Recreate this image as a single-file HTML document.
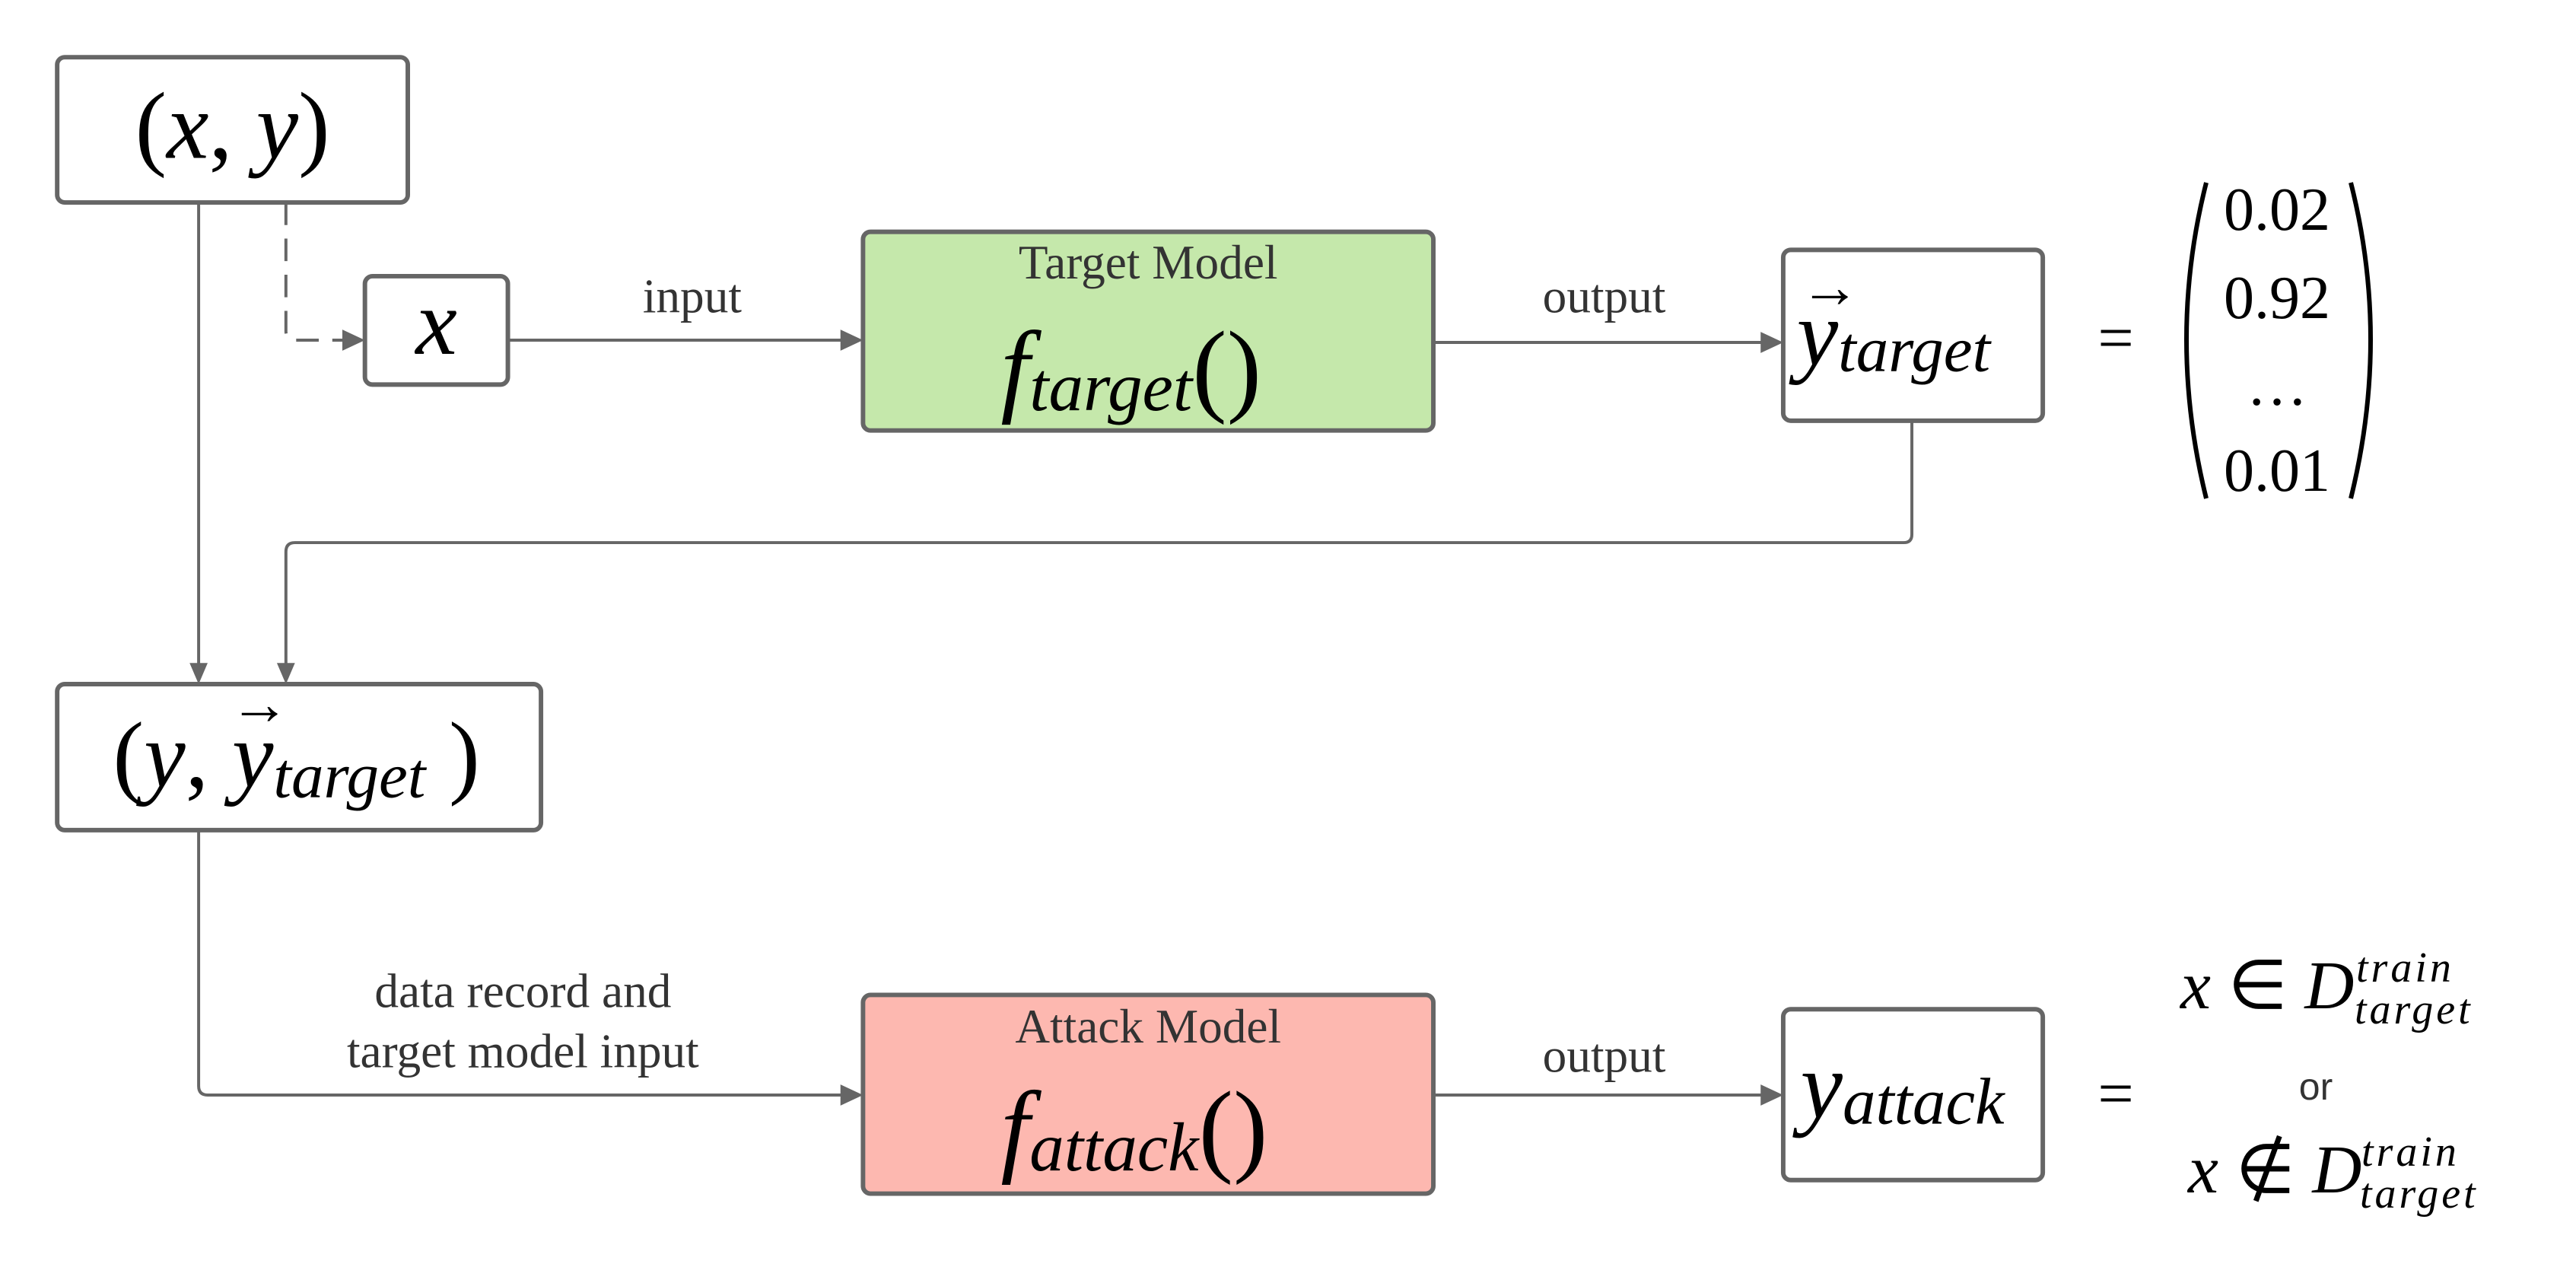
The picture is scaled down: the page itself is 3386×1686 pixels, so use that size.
<!DOCTYPE html>
<html><head><meta charset="utf-8"><style>
html,body{margin:0;padding:0;background:#fff;}
svg{display:block;}
.m{font-family:"Liberation Serif",serif;font-style:italic;fill:#000;}
.r{font-family:"Liberation Serif",serif;fill:#000;}
.l{font-family:"Liberation Serif",serif;fill:#333;}
</style></head><body>
<svg width="3386" height="1686" viewBox="0 0 3386 1686" xmlns="http://www.w3.org/2000/svg">
<g transform="scale(0.989)">
<g fill="none" stroke="#666" stroke-width="4">
<line x1="264" y1="269" x2="264" y2="885"/>
<path d="M380 269 V440 Q380 452 392 452 H455" stroke-dasharray="30 18"/>
<line x1="675" y1="452" x2="1122" y2="452"/>
<line x1="1905" y1="455" x2="2345" y2="455"/>
<path d="M2541 559 V710 Q2541 721 2530 721 H392 Q380 721 380 733 V885"/>
<path d="M264 1103 V1443 Q264 1455 276 1455 H1122"/>
<line x1="1905" y1="1455" x2="2345" y2="1455"/>
</g>
<g fill="#666">
<polygon points="485,452 455,438 455,466"/>
<polygon points="1147,452 1117,438 1117,466"/>
<polygon points="2370,455 2340,441 2340,469"/>
<polygon points="264,909 252,881 276,881"/>
<polygon points="380,909 368,881 392,881"/>
<polygon points="1147,1455 1117,1441 1117,1469"/>
<polygon points="2370,1455 2340,1441 2340,1469"/>
</g>
<g stroke="#666" stroke-width="6">
<rect x="76" y="76" width="466" height="193" rx="10" fill="#fff"/>
<rect x="485" y="367" width="190" height="144" rx="10" fill="#fff"/>
<rect x="1147" y="308" width="758" height="264" rx="10" fill="#c5e8ab"/>
<rect x="2370" y="332" width="345" height="227" rx="10" fill="#fff"/>
<rect x="76" y="909" width="643" height="194" rx="10" fill="#fff"/>
<rect x="1147" y="1322" width="758" height="264" rx="10" fill="#fdb8b0"/>
<rect x="2370" y="1341" width="345" height="227" rx="10" fill="#fff"/>
</g>
<text x="309" y="210" text-anchor="middle" class="r" font-size="126">(<tspan class="m">x</tspan>, <tspan class="m">y</tspan>)</text>
<text x="580" y="470" text-anchor="middle" class="m" font-size="124">x</text>
<text x="920" y="415" text-anchor="middle" class="l" font-size="64">input</text>
<text x="1526" y="370" text-anchor="middle" class="l" font-size="64">Target Model</text>
<text x="1330" y="535" class="m" font-size="138">f<tspan font-size="92" dy="10">target</tspan><tspan class="r" font-style="normal" font-size="138" dy="-10">()</tspan></text>
<text x="2132" y="415" text-anchor="middle" class="l" font-size="64">output</text>
<text x="2388" y="485" class="m" font-size="124">y<tspan font-size="86" dy="8">target</tspan></text>
<text x="2392" y="408" class="r" font-size="80">&#8594;</text>
<text x="150" y="1045" class="r" font-size="124">(<tspan class="m">y</tspan>, <tspan class="m">y</tspan><tspan class="m" font-size="86" dy="14">target</tspan><tspan dy="-14"> )</tspan></text>
<text x="305" y="962" class="r" font-size="80">&#8594;</text>
<text x="695" y="1338" text-anchor="middle" class="l" font-size="64">data record and</text>
<text x="695" y="1418" text-anchor="middle" class="l" font-size="64">target model input</text>
<text x="1526" y="1385" text-anchor="middle" class="l" font-size="64">Attack Model</text>
<text x="1330" y="1545" class="m" font-size="138">f<tspan font-size="92" dy="10">attack</tspan><tspan class="r" font-style="normal" font-size="138" dy="-10">()</tspan></text>
<text x="2132" y="1424" text-anchor="middle" class="l" font-size="64">output</text>
<text x="2393" y="1485" class="m" font-size="126">y<tspan font-size="88" dy="8">attack</tspan></text>
</g>
<text x="2781" y="472" text-anchor="middle" class="r" font-size="84">=</text>
<text x="2781" y="1465" text-anchor="middle" class="r" font-size="84">=</text>
<path d="M2900 240 Q2848 445 2900 655" fill="none" stroke="#000" stroke-width="6"/>
<path d="M3090 240 Q3142 445 3090 655" fill="none" stroke="#000" stroke-width="6"/>
<g class="r" font-size="80" text-anchor="middle">
<text x="2993" y="302">0.02</text>
<text x="2993" y="418">0.92</text>
<text x="2993" y="532">…</text>
<text x="2993" y="645">0.01</text>
</g>
<text x="2866" y="1325" class="m" font-size="90">x <tspan class="r" font-style="normal">∈</tspan> D</text>
<text x="3097" y="1290" class="m" font-size="56" letter-spacing="4">train</text>
<text x="3095" y="1345" class="m" font-size="56" letter-spacing="4">target</text>
<text x="3044" y="1445" text-anchor="middle" font-family="Liberation Sans,sans-serif" font-size="50" fill="#333">or</text>
<text x="2876" y="1567" class="m" font-size="90">x <tspan class="r" font-style="normal">∉</tspan> D</text>
<text x="3104" y="1532" class="m" font-size="56" letter-spacing="4">train</text>
<text x="3102" y="1587" class="m" font-size="56" letter-spacing="4">target</text>
</svg>
</body></html>
